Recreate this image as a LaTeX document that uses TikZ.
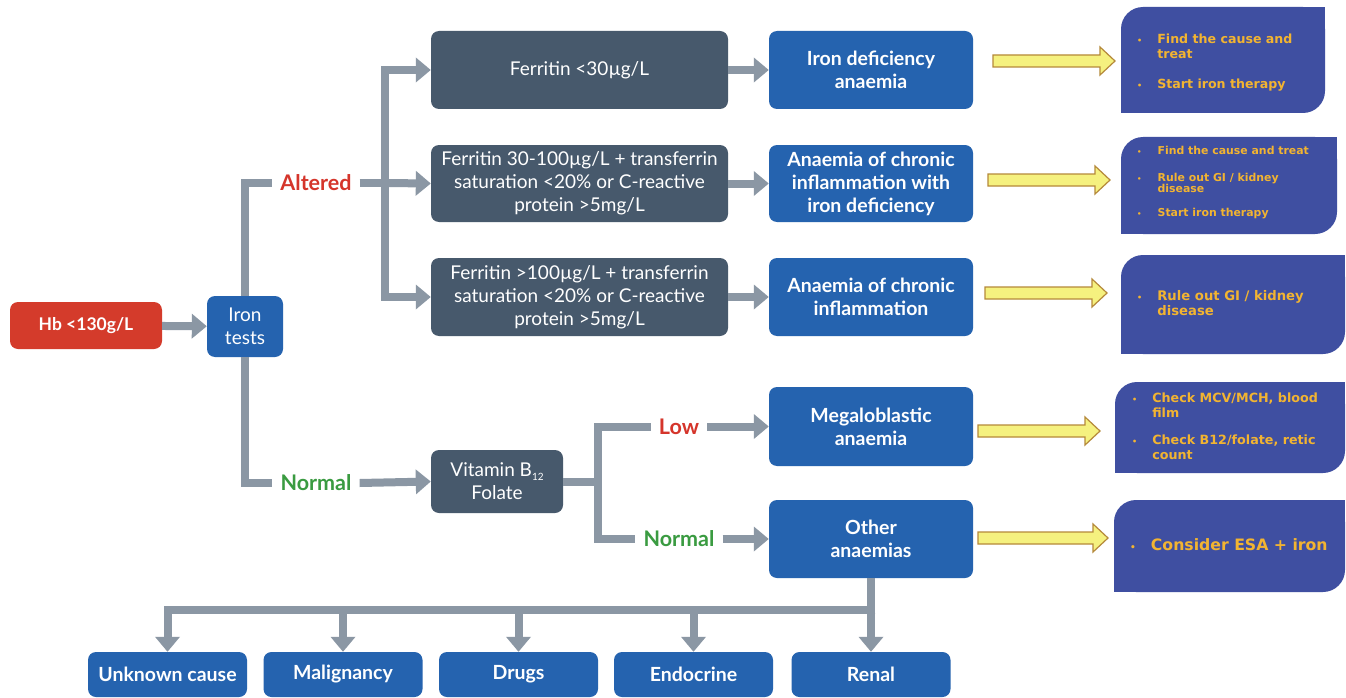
\documentclass[tikz,border=0pt]{standalone}
\usepackage{fontspec}
\setmainfont{Lato}
\newfontfamily\vfont{DejaVu Sans}
\usetikzlibrary{arrows.meta}
\definecolor{hbred}{HTML}{D43B2B}
\definecolor{boxblue}{HTML}{2563AF}
\definecolor{slate}{HTML}{47596C}
\definecolor{conngray}{HTML}{8B97A4}
\definecolor{lblred}{HTML}{D5352B}
\definecolor{lblgreen}{HTML}{3A9B41}
\definecolor{indigo}{HTML}{3F4FA1}
\definecolor{gold}{HTML}{F2B431}
\definecolor{yfill}{HTML}{F5F17F}
\definecolor{ydraw}{HTML}{B5893A}
\newcommand\rcbox[4]{%
  \fill[indigo, rounded corners=22pt] (#1,#2) rectangle (#3,#4);
  \fill[indigo] ({#3-24},#2) rectangle (#3,{#2+24});
  \fill[indigo] (#1,{#4-24}) rectangle ({#1+24},#4);}
\newcommand\yarrowx[3]{%
  \filldraw[yarr, shift={(#1,#3)}] (0,-6) -- ({#2-#1-15},-6) -- ({#2-#1-15},-14) -- ({#2-#1},0)
   -- ({#2-#1-15},14) -- ({#2-#1-15},6) -- (0,6) -- cycle;}
\tikzset{
  box/.style={rounded corners=8pt, text=white, align=center, inner sep=0pt},
  bluebox/.style={box, fill=boxblue, font=\bfseries\fontsize{19.5}{23}\selectfont},
  slatebox/.style={box, fill=slate, font=\fontsize{19}{23}\selectfont},
  botbox/.style={box, fill=boxblue, minimum width=159pt, minimum height=45pt, font=\bfseries\fontsize{19.5}{23}\selectfont},
  lbl/.style={inner xsep=8pt, inner ysep=0pt, font=\bfseries\fontsize{21.5}{23}\selectfont},
  connl/.style={draw=conngray, line width=8pt},
  conn/.style={connl, -{Triangle[width=24pt,length=15pt]}},
  yarr/.style={fill=yfill, draw=ydraw, line width=1.2pt, line join=miter},
  rtext/.style={text=gold, inner sep=0pt, anchor=west, align=left},
}
\begin{document}
\begin{tikzpicture}[x=1pt,y=-1pt, line join=miter]
\fill[white] (0,0) rectangle (1346,698);
\useasboundingbox (0,0) rectangle (1346,698);

% left
\node[box, fill=hbred, minimum width=152pt, minimum height=47pt, font=\bfseries\fontsize{17.5}{23}\selectfont] (hb) at (86,325.5) {Hb <130g/L};
\node[box, fill=boxblue, minimum width=76pt, minimum height=61pt, font=\fontsize{19}{23}\selectfont] (iron) at (245,326.5) {Iron\\tests};

\node[lbl, text=lblred] (alt) at (316,183) {Altered};
\node[lbl, text=lblgreen] (norm1) at (316,483) {Normal};

% ferritin boxes
\node[slatebox, minimum width=297pt, minimum height=78pt] (f1) at (579.5,70) {Ferritin <30µg/L};
\node[slatebox, minimum width=297pt, minimum height=77pt] (f2) at (579.5,183.5) {Ferritin 30-100µg/L + transferrin\\saturation <20\% or C-reactive\\protein >5mg/L};
\node[slatebox, minimum width=297pt, minimum height=78pt] (f3) at (579.5,297) {Ferritin >100µg/L + transferrin\\saturation <20\% or C-reactive\\protein >5mg/L};

% diagnosis boxes
\node[bluebox, minimum width=204pt, minimum height=78pt] (d1) at (871,70) {Iron deficiency\\anaemia};
\node[bluebox, minimum width=204pt, minimum height=77pt] (d2) at (871,183.5) {Anaemia of chronic\\inflammation with\\iron deficiency};
\node[bluebox, minimum width=204pt, minimum height=78pt] (d3) at (871,297) {Anaemia of chronic\\inflammation};
\node[bluebox, minimum width=204pt, minimum height=79pt] (d4) at (871,426.5) {Megaloblastic\\anaemia};
\node[bluebox, minimum width=204pt, minimum height=78pt] (d5) at (871,539) {Other\\anaemias};

% vitamin
\node[slatebox, minimum width=132pt, minimum height=63pt] (vit) at (497,481.5) {Vitamin B\raisebox{-4pt}{\fontsize{10}{10}\selectfont 12}\\Folate};
\node[lbl, text=lblred] (low) at (679,426.5) {Low};
\node[lbl, text=lblgreen] (norm2) at (679,539) {Normal};

% bottom boxes
\node[botbox] (b1) at (167.5,674.5) {Unknown cause};
\node[botbox] (b2) at (343,674.5) {Malignancy};
\node[botbox] (b3) at (518.5,674.5) {Drugs};
\node[botbox] (b4) at (693.5,674.5) {Endocrine};
\node[botbox] (b5) at (871,674.5) {Renal};

% connectors
\draw[conn] (hb) -- (iron);
\draw[connl] (iron.north) |- (alt.west);
\coordinate (trunk) at (385,183);
\draw[connl] (alt.east) -- (trunk);
\draw[conn] (trunk) |- (f1.west);
\draw[conn] (trunk) -- (f2.west);
\draw[conn] (trunk) |- (f3.west);
\draw[conn] (f1) -- (d1);
\draw[conn] (f2) -- (d2);
\draw[conn] (f3) -- (d3);
\draw[connl] (iron.south) |- (norm1.west);
\draw[conn] (norm1.east) -- (vit.west);
\coordinate (vt) at (598,481.5);
\draw[connl] (vit.east) -- (vt);
\draw[connl] (vt) |- (low.west);
\draw[connl] (vt) |- (norm2.west);
\draw[conn] (low.east) -- (d4.west);
\draw[conn] (norm2.east) -- (d5.west);
\coordinate (hub) at (875,610);
\draw[conn] (d5.south) -- (b5.north);
\draw[conn] (hub) -| (b1.north);
\draw[conn] (hub) -| (b2.north);
\draw[conn] (hub) -| (b3.north);
\draw[conn] (hub) -| (b4.north);

% yellow arrows
\yarrowx{993}{1115}{61}
\yarrowx{988}{1110}{180}
\yarrowx{985}{1107}{293}
\yarrowx{978}{1100}{431}
\yarrowx{978}{1108}{538}

% right boxes
\rcbox{1121}{7}{1325}{113}
\rcbox{1121}{137}{1337}{234}
\rcbox{1121}{255}{1345}{354}
\rcbox{1115}{382}{1345}{473}
\rcbox{1114}{500}{1345}{592}

\node[rtext, font=\vfont\bfseries\fontsize{12.6}{15}\selectfont] (t1) at (1137,63)
 {\begin{tabular}{@{}l@{\hspace{15pt}}l@{}}{\fontsize{8}{8}\selectfont•} & Find the cause and\\ & treat\\[15pt] {\fontsize{8}{8}\selectfont•} & Start iron therapy\end{tabular}};
\node[rtext, font=\vfont\bfseries\fontsize{10.9}{10}\selectfont] (t2) at (1137,183)
 {\begin{tabular}{@{}l@{\hspace{16pt}}l@{}}{\fontsize{7}{7}\selectfont•} & Find the cause and treat\\[15pt] {\fontsize{7}{7}\selectfont•} & Rule out GI / kidney\\ & disease\\[13pt] {\fontsize{7}{7}\selectfont•} & Start iron therapy\end{tabular}};
\node[rtext, font=\vfont\bfseries\fontsize{13.2}{14}\selectfont] (t3) at (1137,305)
 {\begin{tabular}{@{}l@{\hspace{15pt}}l@{}}{\fontsize{8}{8}\selectfont•} & Rule out GI / kidney\\ & disease\end{tabular}};
\node[rtext, font=\vfont\bfseries\fontsize{12.7}{15}\selectfont] (t4) at (1132,428)
 {\begin{tabular}{@{}l@{\hspace{15pt}}l@{}}{\fontsize{8}{8}\selectfont•} & Check MCV/MCH, blood\\ & film\\[12pt] {\fontsize{8}{8}\selectfont•} & Check B12/folate, retic\\ & count\end{tabular}};
\node[rtext, font=\vfont\bfseries\fontsize{15.7}{18}\selectfont] (t5) at (1130,547)
 {\begin{tabular}{@{}l@{\hspace{15pt}}l@{}}{\fontsize{9}{9}\selectfont•} & Consider ESA + iron\end{tabular}};
\end{tikzpicture}
\end{document}
